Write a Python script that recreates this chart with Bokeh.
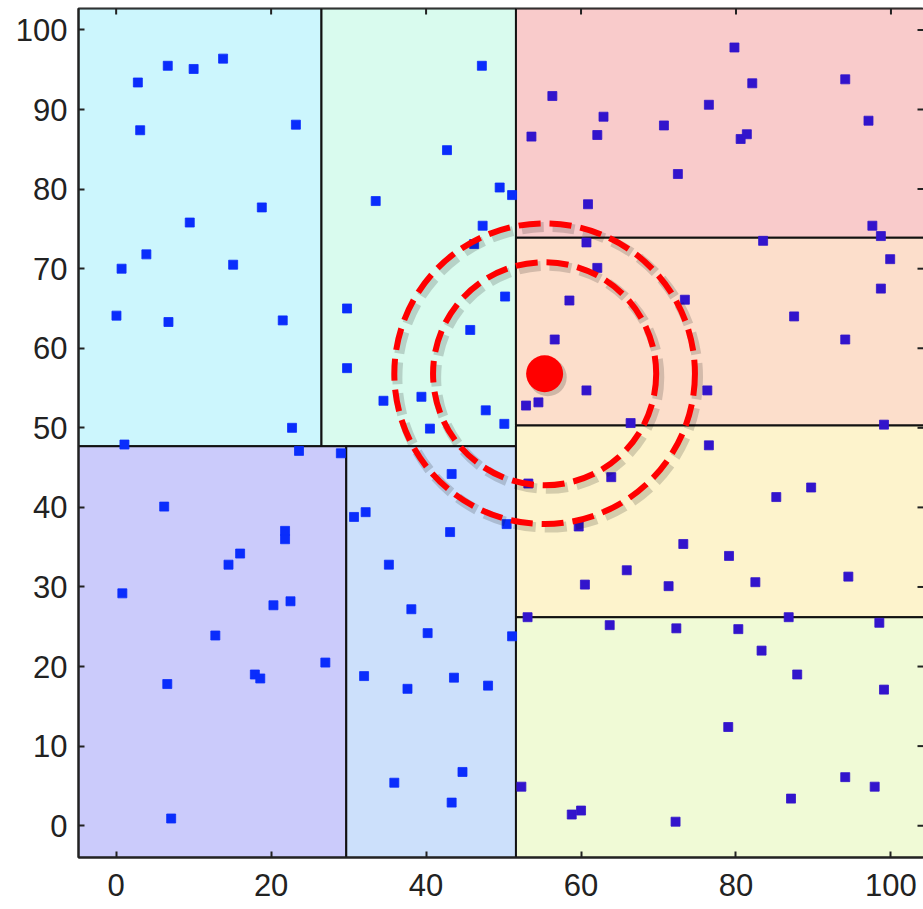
import numpy as np
from bokeh.plotting import figure
from bokeh.models import Range1d, ColumnDataSource, FixedTicker
from bokeh.embed import file_html
from bokeh.resources import INLINE

# ---- data -------------------------------------------------------------
x_ticks = [0, 20, 40, 60, 80, 100]
y_ticks = [0, 10, 20, 30, 40, 50, 60, 70, 80, 90, 100]

# k-d tree split values
split_x_root = 51.6
split_y_left = 47.7
split_x_top_left = 26.5
split_x_bottom_left = 29.7
split_y_right = [73.9, 50.3, 26.2]

# points (x, y)
pts_x = [6.66, 10.0, 13.8, 2.8, 3.1, 23.2, 18.8, 9.5, 3.9, 0.7, 15.1,
         0.04, 6.75, 21.5, 29.8, 29.8, 22.7, 1.07, 23.6, 29.0,
         6.2, 30.7, 21.8, 21.8, 16.0, 14.5,
         0.8, 20.3, 22.5, 12.8, 27.0, 17.9, 18.6, 6.6, 7.1, 32.0,
         47.2, 42.7, 33.5, 49.5, 51.1, 47.3, 46.2,
         50.2, 45.7, 34.5, 39.4, 47.7, 50.1, 40.5,
         43.3, 32.2, 43.1, 35.2, 50.4,
         38.1, 40.2, 51.1, 37.6, 43.6, 48.0, 44.7, 35.9, 43.3,
         56.3, 62.9, 53.6, 62.1, 60.9, 60.7, 62.1,
         79.8, 82.1, 76.5, 94.1, 70.7, 80.6, 81.4, 97.1, 72.5, 97.6, 98.7, 83.5, 99.9, 98.7,
         58.5, 56.6, 60.7, 54.5, 52.9, 66.4,
         53.2, 63.9, 59.7, 65.9,
         73.4, 87.5, 94.1, 76.3, 99.1, 76.5, 89.7, 85.2, 73.2, 79.1, 94.5,
         71.3, 82.5, 86.8, 72.3, 80.3, 98.5, 83.3, 87.9, 99.1, 79.0, 94.1, 97.9, 87.1, 72.2,
         60.5, 53.1, 63.7, 52.3, 60.0, 58.8]
pts_y = [95.5, 95.1, 96.4, 93.4, 87.4, 88.1, 77.7, 75.8, 71.8, 70.0, 70.5,
         64.1, 63.3, 63.5, 65.0, 57.5, 50.0, 47.9, 47.1, 46.8,
         40.1, 38.8, 37.05, 36.0, 34.2, 32.8,
         29.2, 27.7, 28.2, 23.9, 20.5, 19.0, 18.5, 17.8, 0.9, 18.8,
         95.5, 84.9, 78.5, 80.2, 79.25, 75.4, 73.1,
         66.5, 62.3, 53.4, 53.9, 52.2, 50.5, 49.9,
         44.2, 39.4, 36.9, 32.8, 37.9,
         27.2, 24.2, 23.8, 17.2, 18.6, 17.6, 6.75, 5.4, 2.9,
         91.7, 89.1, 86.6, 86.8, 78.1, 73.3, 70.1,
         97.8, 93.3, 90.6, 93.8, 88.0, 86.3, 86.9, 88.6, 81.9, 75.4, 74.1, 73.5, 71.2, 67.5,
         66.0, 61.1, 54.7, 53.2, 52.8, 50.6,
         43.0, 43.8, 37.6, 32.1,
         66.1, 64.0, 61.1, 54.7, 50.4, 47.8, 42.5, 41.3, 35.4, 33.9, 31.3,
         30.1, 30.6, 26.2, 24.8, 24.7, 25.5, 22.0, 19.0, 17.1, 12.4, 6.1, 4.9, 3.4, 0.5,
         30.3, 26.2, 25.2, 4.9, 1.9, 1.4]

# query point and search radii
query_x = [55.3]
query_y = [56.8]
radius_inner = 14.4
radius_outer = 19.4

# ---- figure -----------------------------------------------------------
X0, X1 = -4.86, 104.2
Y0, Y1 = -4.0, 102.7

p = figure(width=923, height=909, output_backend="svg", toolbar_location=None,
           x_range=Range1d(X0, X1), y_range=Range1d(Y0, Y1),
           min_border_left=78, min_border_right=0, min_border_top=8,
           min_border_bottom=52, background_fill_color="white",
           border_fill_color="white")
p.outline_line_color = "#222222"
p.outline_line_width = 2
p.xgrid.visible = False
p.ygrid.visible = False

# regions
reg = dict(
    left=[X0, split_x_top_left, X0, split_x_bottom_left, split_x_root, split_x_root, split_x_root, split_x_root],
    right=[split_x_top_left, split_x_root, split_x_bottom_left, split_x_root, X1 + 5, X1 + 5, X1 + 5, X1 + 5],
    bottom=[split_y_left, split_y_left, Y0, Y0, split_y_right[0], split_y_right[1], split_y_right[2], Y0],
    top=[Y1, Y1, split_y_left, split_y_left, Y1, split_y_right[0], split_y_right[1], split_y_right[2]],
    color=["#ccf6fd", "#d9fbee", "#cbcbfb", "#cce0fb", "#f9cbcb", "#fcdecb", "#fdf3cc", "#f0fad6"],
)
p.quad(left="left", right="right", bottom="bottom", top="top", fill_color="color",
       line_color="#111111", line_width=2, source=ColumnDataSource(reg))

# points
px = np.array(pts_x)
py = np.array(pts_y)
colors = list(np.where(px < split_x_root, "#0a2dfc", "#3214cc"))
p.scatter(px, py, marker="square", size=9, fill_color=colors, line_color=colors,
          line_width=0.8)

# circle shadows
sx = [query_x[0] + 0.4]
sy = [query_y[0] - 0.45]
for r in (radius_inner, radius_outer):
    p.circle(sx, sy, radius=r, fill_color=None, line_color="#000000", line_alpha=0.16,
             line_width=10, line_dash="22 9")
for r in (radius_inner, radius_outer):
    p.circle(query_x, query_y, radius=r, fill_color=None, line_color="#ff0000",
             line_width=6, line_dash="22 9")

# query point
p.scatter(sx, sy, size=38, fill_color="#000000", fill_alpha=0.18, line_color=None)
p.scatter(query_x, query_y, size=37, fill_color="#ff0000", line_color=None)

# mirrored inward ticks on the top and right edges (clipped to the frame)
p.scatter(x_ticks, [Y1] * len(x_ticks), marker="dash", angle=np.pi / 2, size=12,
          line_color="#222222", line_width=2)
p.scatter([X1] * len(y_ticks), y_ticks, marker="dash", size=12,
          line_color="#222222", line_width=2)

# axes
font = "Liberation Sans"
for ax in (p.xaxis[0], p.yaxis[0]):
    ax.major_tick_in = 6
    ax.major_tick_out = 0
    ax.minor_tick_line_color = None
    ax.axis_line_width = 2
    ax.axis_line_color = "#222222"
    ax.major_tick_line_color = "#222222"
    ax.major_tick_line_width = 2
    ax.major_label_text_font = font
    ax.major_label_text_font_size = "31px"
    ax.major_label_text_color = "#222222"
p.xaxis[0].ticker = FixedTicker(ticks=x_ticks)
p.yaxis[0].ticker = FixedTicker(ticks=y_ticks)
p.xaxis[0].major_label_standoff = 16
p.yaxis[0].major_label_standoff = 11

open("out.html", "w").write(file_html(p, INLINE))
